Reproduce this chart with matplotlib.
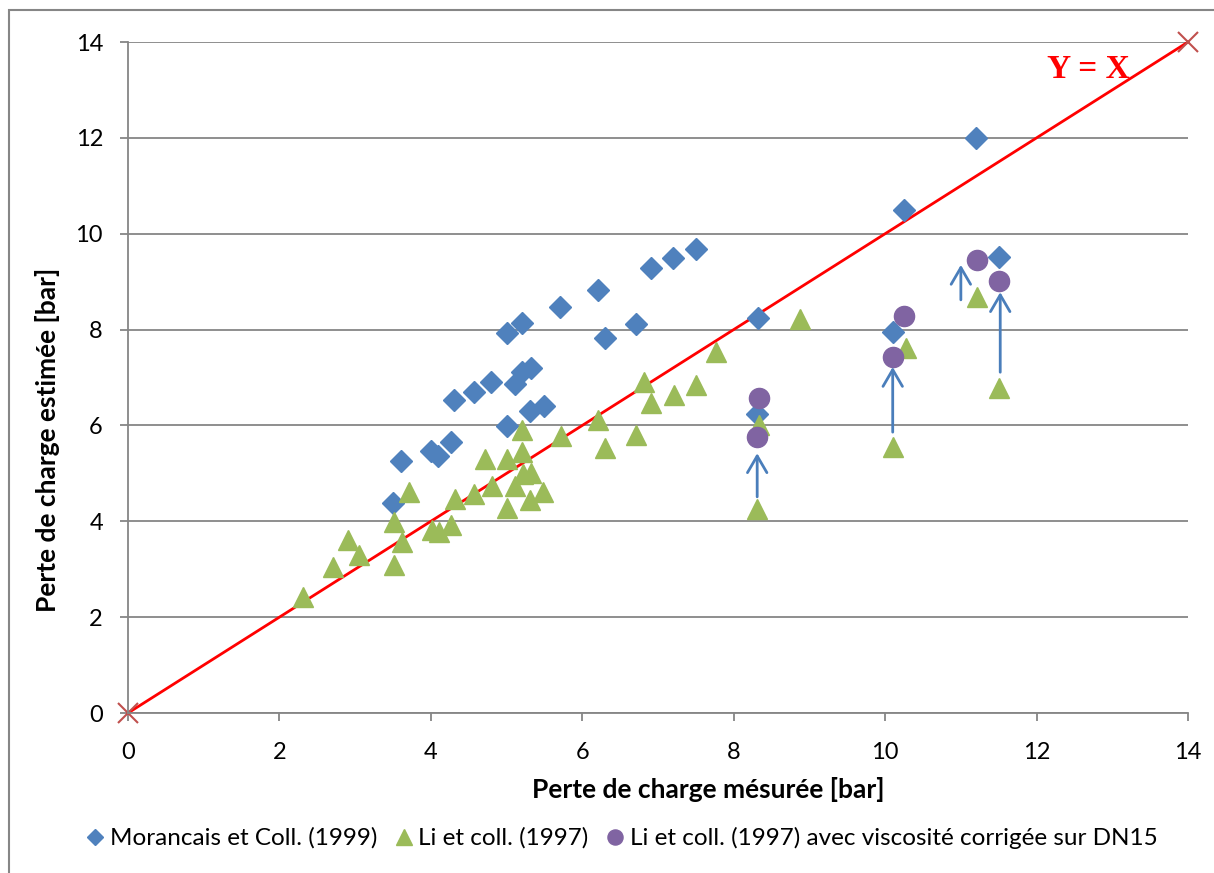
import matplotlib.pyplot as plt
from matplotlib.patches import Rectangle

# Morancais et Coll. (1999)
mor_x = [3.50, 3.61, 4.00, 4.10, 4.27, 4.31, 4.57, 4.80, 5.01, 5.01, 5.11, 5.20, 5.20, 5.32,
         5.31, 5.50, 5.71, 6.21, 6.30, 6.71, 6.91, 7.20, 7.50, 8.32, 8.31, 10.11, 10.25, 11.20, 11.51]
mor_y = [4.38, 5.26, 5.47, 5.36, 5.65, 6.53, 6.70, 6.91, 5.99, 7.93, 6.86, 8.14, 7.11, 7.20,
         6.30, 6.41, 8.47, 8.83, 7.82, 8.12, 9.28, 9.49, 9.68, 8.24, 6.24, 7.95, 10.49, 12.00, 9.51]

# Li et coll. (1997)
li_x = [2.31, 2.71, 2.91, 3.05, 3.51, 3.51, 3.62, 3.71, 4.02, 4.11, 4.27, 4.32, 4.57, 4.72,
        4.81, 5.01, 5.01, 5.11, 5.20, 5.20, 5.22, 5.32, 5.31, 5.48, 5.72, 6.21, 6.30, 6.71,
        6.82, 6.91, 7.21, 7.50, 7.77, 8.88, 8.34, 8.31, 10.28, 10.11, 11.21, 11.51]
li_y = [2.42, 3.05, 3.61, 3.30, 3.09, 3.98, 3.57, 4.61, 3.82, 3.78, 3.92, 4.46, 4.57, 5.30,
        4.74, 5.30, 4.28, 4.74, 5.90, 5.45, 4.99, 5.01, 4.44, 4.61, 5.78, 6.11, 5.53, 5.80,
        6.91, 6.47, 6.64, 6.84, 7.53, 8.22, 6.01, 4.26, 7.62, 5.55, 8.68, 6.78]

# Li et coll. (1997), viscosite corrigee sur DN15
corr_x = [8.34, 8.31, 10.25, 10.11, 11.21, 11.51]
corr_y = [6.57, 5.76, 8.28, 7.43, 9.45, 9.01]

# fleches de correction
fl_x = [8.31, 10.10, 11.00, 11.52]
fl_y0 = [4.51, 5.86, 8.62, 7.11]
fl_y1 = [5.42, 7.22, 9.35, 8.78]

droite = [0, 14]
ticks = [0, 2, 4, 6, 8, 10, 12, 14]

plt.rcParams['font.family'] = ['Lato', 'DejaVu Sans']

fig = plt.figure(figsize=(12.14, 8.73), dpi=100)
ax = fig.add_axes([128/1214, 1-713/873, 1060/1214, 671/873])

# cadre du graphique (haut et gauche)
fig.patches.append(Rectangle((9/1214, -0.1), 1.2, 1-10/873+0.1, transform=fig.transFigure,
                             fill=False, edgecolor='#868686', lw=1.5))

for t in ticks:
    ax.axhline(t, color='#868686', lw=1.3, zorder=0)

ax.plot(droite, droite, color='#FF0000', lw=2, zorder=2)
ax.plot(droite, droite, ls='none', marker='x', ms=14, mew=1.5, color='#C0504D', zorder=2,
        clip_on=False)

ax.plot(mor_x, mor_y, ls='none', marker='D', ms=11, color='#4F81BD', mec='#4F81BD',
        label='Morancais et Coll. (1999)', zorder=3)
ax.plot(li_x, li_y, ls='none', marker='^', ms=15, color='#9BBB59', mec='#9BBB59',
        label='Li et coll. (1997)', zorder=3)
ax.plot(corr_x, corr_y, ls='none', marker='o', ms=14.5, color='#8064A2', mec='#8064A2',
        label='Li et coll. (1997) avec viscosité corrigée sur DN15', zorder=4)

for x, y0, y1 in zip(fl_x, fl_y0, fl_y1):
    ax.annotate('', xy=(x, y1), xytext=(x, y0),
                arrowprops=dict(arrowstyle='->,head_length=0.6,head_width=0.35',
                                color='#4A7EBB', lw=2, mutation_scale=20,
                                shrinkA=0, shrinkB=0), zorder=5)

ax.text(12.68, 13.42, 'Y = X', color='#FF0000', fontsize=24, fontweight='bold',
        family='Liberation Serif', ha='center', va='center')

ax.set_xlim(0, 14)
ax.set_ylim(0, 14)
ax.set_xticks(ticks)
ax.set_yticks(ticks)
for s in ['top', 'right']:
    ax.spines[s].set_visible(False)
for s in ['left', 'bottom']:
    ax.spines[s].set_color('#868686')
    ax.spines[s].set_linewidth(1.3)
ax.tick_params(axis='both', direction='out', length=6, width=1.3, color='#868686',
               labelsize=17)
ax.tick_params(axis='x', pad=15)
ax.tick_params(axis='y', pad=12)

fig.text(708/1214, 1-789/873, 'Perte de charge mésurée [bar]', fontsize=19, fontweight='bold',
         ha='center', va='center')
fig.text(48/1214, 1-440/873, 'Perte de charge estimée [bar]', fontsize=19, fontweight='bold',
         ha='center', va='center', rotation=90)

fig.legend(loc='center', bbox_to_anchor=(619/1214, 1-838/873), ncol=3, frameon=False,
           fontsize=17.5, handletextpad=0.0, columnspacing=0.5, markerscale=0.75,
           handlelength=1.2)

fig.savefig('out.png', dpi=100)
